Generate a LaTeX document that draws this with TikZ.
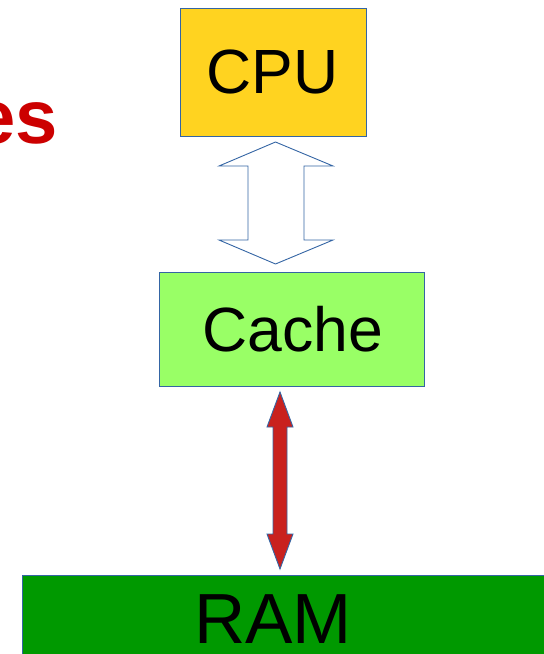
\documentclass[tikz,border=0pt]{standalone}
\usepackage{fontspec}
\setmainfont{Liberation Sans}
\definecolor{cpuyellow}{HTML}{FFD320}
\definecolor{cachegreen}{HTML}{99FF66}
\definecolor{ramgreen}{HTML}{009900}
\definecolor{edgeblue}{HTML}{3465A4}
\definecolor{arrowred}{HTML}{C9211E}
\definecolor{titlered}{HTML}{CC0000}
\begin{document}
\begin{tikzpicture}[x=1pt,y=-1pt,
  box/.style={draw=edgeblue, line width=0.9pt, rectangle, inner sep=0pt},
  lbl/.style={anchor=base, inner sep=0pt, text=black},
  blockarrow/.style={draw=edgeblue, line width=0.9pt, line join=miter}]
\useasboundingbox (0,0) rectangle (544,654);
\clip (0,0) rectangle (544,654);
% partial title
\node[anchor=base east, inner sep=0pt, text=titlered, font=\fontsize{76}{80}\selectfont\bfseries] (title) at (58,143) {es};
% boxes
\node[box, fill=cpuyellow, minimum width=186pt, minimum height=128pt] (cpu) at (273,72) {};
\node[lbl, font=\fontsize{62.5}{66}\selectfont] (cputext) at (272.5,93) {CPU};
\node[box, fill=cachegreen, minimum width=265pt, minimum height=114pt] (cache) at (291.5,329) {};
\node[lbl, font=\fontsize{62.5}{66}\selectfont] (cachetext) at (292.5,351) {Cache};
\node[box, fill=ramgreen, minimum width=560pt, minimum height=120pt] (ram) at (302,635) {};
\node[lbl, font=\fontsize{71}{76}\selectfont] (ramtext) at (273,643) {RAM};
% hollow double arrow CPU <-> Cache
\coordinate (ha) at (275.5,142);
\draw[blockarrow, fill=white]
  (ha) -- (333,166) -- (304,166) -- (304,240) -- (333,240) -- (275.5,264)
  -- (219,240) -- (248,240) -- (248,166) -- (219,166) -- cycle;
% red double arrow Cache <-> RAM
\coordinate (ra) at (280,392);
\draw[blockarrow, fill=arrowred]
  (ra) -- (293,427) -- (287,427) -- (287,534) -- (293,534) -- (280,569)
  -- (267,534) -- (273,534) -- (273,427) -- (267,427) -- cycle;
\end{tikzpicture}
\end{document}
